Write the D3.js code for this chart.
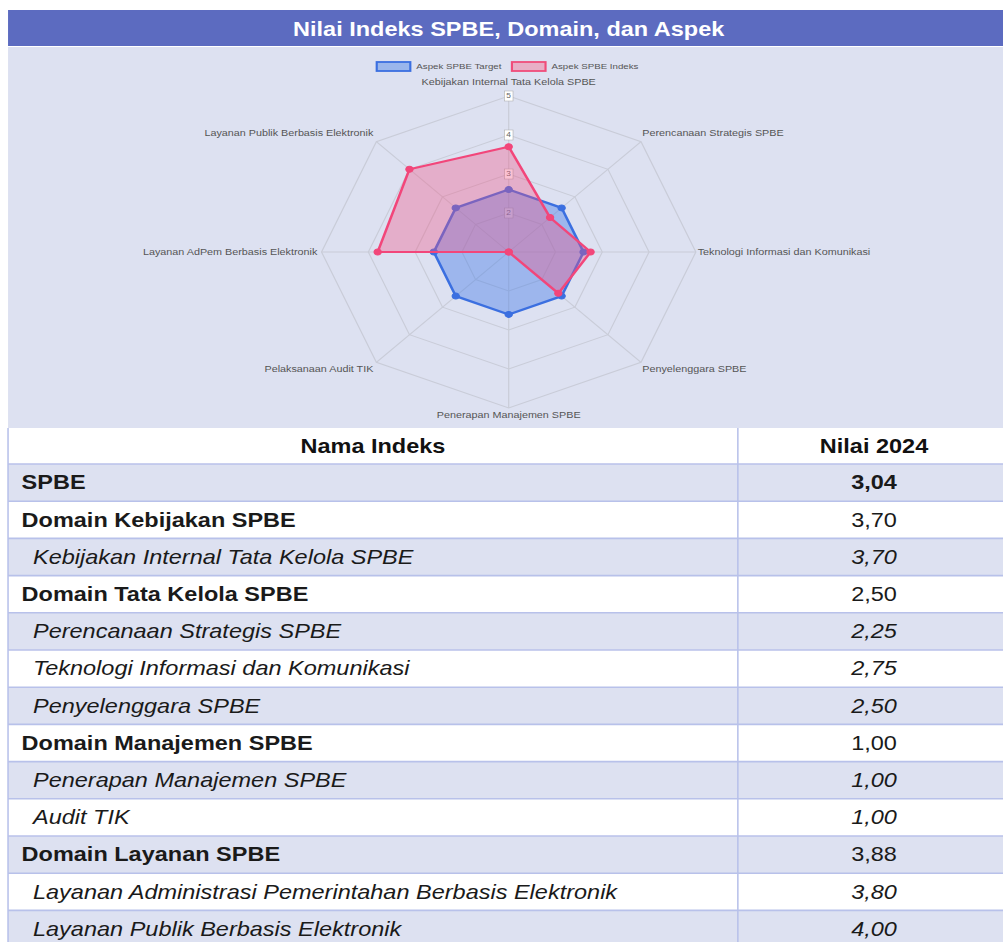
<!DOCTYPE html>
<html>
<head>
<meta charset="utf-8">
<script src="https://cdn.jsdelivr.net/npm/d3@7"></script>
<style>
  html, body { margin: 0; padding: 0; background: #ffffff; }
  svg { display: block; font-family: "Liberation Sans", Arial, sans-serif; }
</style>
</head>
<body>
<script>
// radar data (axes clockwise from the top)
var aspects = [
  "Kebijakan Internal Tata Kelola SPBE",
  "Perencanaan Strategis SPBE",
  "Teknologi Informasi dan Komunikasi",
  "Penyelenggara SPBE",
  "Penerapan Manajemen SPBE",
  "Pelaksanaan Audit TIK",
  "Layanan AdPem Berbasis Elektronik",
  "Layanan Publik Berbasis Elektronik"
];
var targetValues = [2.6, 2.6, 2.6, 2.6, 2.6, 2.6, 2.6, 2.6];
var indeksValues = [3.70, 2.25, 2.75, 2.50, 1.00, 1.00, 3.80, 4.00];
var seriesNames = ["Aspek SPBE Target", "Aspek SPBE Indeks"];
var radialTicks = [1, 2, 3, 4, 5];
var tickLabels = [2, 3, 4, 5];

// table data
var tableHeader = ["Nama Indeks", "Nilai 2024"];
var tableNames = [
  "SPBE",
  "Domain Kebijakan SPBE",
  "Kebijakan Internal Tata Kelola SPBE",
  "Domain Tata Kelola SPBE",
  "Perencanaan Strategis SPBE",
  "Teknologi Informasi dan Komunikasi",
  "Penyelenggara SPBE",
  "Domain Manajemen SPBE",
  "Penerapan Manajemen SPBE",
  "Audit TIK",
  "Domain Layanan SPBE",
  "Layanan Administrasi Pemerintahan Berbasis Elektronik",
  "Layanan Publik Berbasis Elektronik"
];
var tableValues = [3.04, 3.70, 3.70, 2.50, 2.25, 2.75, 2.50, 1.00, 1.00, 1.00, 3.88, 3.80, 4.00];
var tableLevels = ["total", "domain", "aspect", "domain", "aspect", "aspect", "aspect",
                   "domain", "aspect", "aspect", "domain", "aspect", "aspect"];

// the picture is stretched sideways, so draw in a narrower box and stretch it
var W = 836, H = 942;
var svg = d3.select("body").append("svg")
  .attr("width", 1003)
  .attr("height", 942)
  .attr("viewBox", "0 0 " + W + " " + H)
  .attr("preserveAspectRatio", "none");

var left = 6.7, right = 842;
var lavender = "#dde1f1";
var textSize = 19.6;

// title bar
svg.append("rect")
  .attr("x", left).attr("y", 10)
  .attr("width", right - left).attr("height", 36)
  .attr("fill", "#5c6bc0");
svg.append("text")
  .attr("x", 424).attr("y", 29)
  .attr("text-anchor", "middle")
  .attr("dominant-baseline", "central")
  .attr("fill", "#ffffff")
  .attr("font-weight", "bold")
  .attr("font-size", 19.6)
  .text("Nilai Indeks SPBE, Domain, dan Aspek");

// chart background
svg.append("rect")
  .attr("x", left).attr("y", 47)
  .attr("width", right - left).attr("height", 381)
  .attr("fill", lavender);

// legend
var legendX = [314, 426.7];
var legendColors = [
  { stroke: "#3b6fe0", fill: "#9ab6ec" },
  { stroke: "#f04d7a", fill: "#e8aec6" }
];
var legend = svg.selectAll("g.legend")
  .data(seriesNames)
  .enter()
  .append("g")
  .attr("class", "legend")
  .attr("transform", function(d, i) { return "translate(" + legendX[i] + ",62)"; });
legend.append("rect")
  .attr("width", 28).attr("height", 9)
  .attr("fill", function(d, i) { return legendColors[i].fill; })
  .attr("stroke", function(d, i) { return legendColors[i].stroke; })
  .attr("stroke-width", 1.8);
legend.append("text")
  .attr("x", 33).attr("y", 4.5)
  .attr("dominant-baseline", "central")
  .attr("font-size", 8.1)
  .attr("fill", "#555")
  .text(function(d) { return d; });

// radar
var cx = 424, cy = 252, R = 156;
var r = d3.scaleLinear().domain([1, 5]).range([0, R]);
var angle = function(i) { return i * 2 * Math.PI / aspects.length; };
var idx = d3.range(aspects.length);

var radar = svg.append("g").attr("transform", "translate(" + cx + "," + cy + ")");

// octagon rings
var ringLine = d3.lineRadial()
  .angle(function(i) { return angle(i); })
  .curve(d3.curveLinearClosed);
radar.selectAll("path.ring")
  .data(radialTicks.slice(1))
  .enter()
  .append("path")
  .attr("class", "ring")
  .attr("d", function(t) { return ringLine.radius(r(t))(idx); })
  .attr("fill", "none")
  .attr("stroke", "#c9ccd8")
  .attr("stroke-width", 1);

// spokes
radar.selectAll("line.spoke")
  .data(idx)
  .enter()
  .append("line")
  .attr("class", "spoke")
  .attr("x1", 0).attr("y1", 0)
  .attr("x2", function(i) { return R * Math.sin(angle(i)); })
  .attr("y2", function(i) { return -R * Math.cos(angle(i)); })
  .attr("stroke", "#c9ccd8")
  .attr("stroke-width", 1);

// tick labels (drawn under the data, like the original)
var ticks = radar.selectAll("g.tick")
  .data(tickLabels)
  .enter()
  .append("g")
  .attr("class", "tick")
  .attr("transform", function(t) { return "translate(0," + (-r(t)) + ")"; });
ticks.append("rect")
  .attr("x", -3.6).attr("y", -5)
  .attr("width", 7.2).attr("height", 10)
  .attr("fill", "#ffffff")
  .attr("stroke", "#aaa")
  .attr("stroke-width", 0.5);
ticks.append("text")
  .attr("text-anchor", "middle")
  .attr("dominant-baseline", "central")
  .attr("font-size", 7)
  .attr("fill", "#666")
  .text(function(t) { return t; });

// point labels
var labelPos = function(i) {
  var a = angle(i), s = Math.sin(a), c = Math.cos(a);
  var x = R * s, y = -R * c;
  if (Math.abs(s) < 0.01) {
    return { x: 0, y: c > 0 ? y - 14 : y + 7, anchor: "middle" };
  }
  if (Math.abs(c) < 0.01) {
    return { x: s > 0 ? x + 1.5 : x - 3.5, y: y, anchor: s > 0 ? "start" : "end" };
  }
  return { x: s > 0 ? x + 1 : x - 2.5, y: c > 0 ? y - 9 : y + 7, anchor: s > 0 ? "start" : "end" };
};
radar.selectAll("text.plabel")
  .data(aspects)
  .enter()
  .append("text")
  .attr("class", "plabel")
  .attr("x", function(d, i) { return labelPos(i).x; })
  .attr("y", function(d, i) { return labelPos(i).y; })
  .attr("text-anchor", function(d, i) { return labelPos(i).anchor; })
  .attr("dominant-baseline", "central")
  .attr("font-size", 9)
  .attr("fill", "#555")
  .text(function(d) { return d; });

// series polygons
var seriesData = [
  { values: targetValues, stroke: "#3b6fe0", fill: "rgba(70,125,232,0.42)" },
  { values: indeksValues, stroke: "#f2467a", fill: "rgba(240,80,130,0.35)" }
];
var areaLine = d3.lineRadial()
  .angle(function(d, i) { return angle(i); })
  .radius(function(d) { return r(d); })
  .curve(d3.curveLinearClosed);

var series = radar.selectAll("g.series")
  .data(seriesData)
  .enter()
  .append("g")
  .attr("class", "series");
series.append("path")
  .attr("d", function(s) { return areaLine(s.values); })
  .attr("fill", function(s) { return s.fill; })
  .attr("stroke", function(s) { return s.stroke; })
  .attr("stroke-width", 2.2)
  .attr("stroke-linejoin", "round");
series.selectAll("circle")
  .data(function(s) { return s.values.map(function(v) { return { v: v, s: s }; }); })
  .enter()
  .append("circle")
  .attr("cx", function(d, i) { return r(d.v) * Math.sin(angle(i)); })
  .attr("cy", function(d, i) { return -r(d.v) * Math.cos(angle(i)); })
  .attr("r", 3)
  .attr("fill", function(d) { return d.s.stroke; })
  .attr("stroke", function(d) { return d.s.stroke; })
  .attr("stroke-width", 1);

// table
var tableTop = 428, headH = 36, rowH = 37.2;
var divX = 615;
var fmt = function(v) { return d3.format(".2f")(v).replace(".", ","); };

svg.append("rect")
  .attr("x", left).attr("y", tableTop)
  .attr("width", right - left).attr("height", headH)
  .attr("fill", "#ffffff");
svg.selectAll("text.head")
  .data(tableHeader)
  .enter()
  .append("text")
  .attr("class", "head")
  .attr("x", function(d, i) { return i === 0 ? (left + divX) / 2 : (divX + right) / 2; })
  .attr("y", tableTop + headH / 2)
  .attr("text-anchor", "middle")
  .attr("dominant-baseline", "central")
  .attr("font-weight", "bold")
  .attr("font-size", textSize)
  .attr("fill", "#111")
  .text(function(d) { return d; });

var rowY = function(i) { return tableTop + headH + i * rowH; };
var rows = svg.selectAll("g.row")
  .data(tableNames)
  .enter()
  .append("g")
  .attr("class", "row")
  .attr("transform", function(d, i) { return "translate(0," + rowY(i) + ")"; });
rows.append("rect")
  .attr("x", left).attr("width", right - left)
  .attr("height", rowH)
  .attr("fill", function(d, i) { return i % 2 === 0 ? lavender : "#ffffff"; });
rows.append("text")
  .attr("x", function(d, i) { return tableLevels[i] === "aspect" ? 27.5 : 18; })
  .attr("y", rowH / 2)
  .attr("dominant-baseline", "central")
  .attr("font-size", textSize)
  .attr("fill", "#1a1a1a")
  .attr("font-weight", function(d, i) { return tableLevels[i] === "aspect" ? "normal" : "bold"; })
  .attr("font-style", function(d, i) { return tableLevels[i] === "aspect" ? "italic" : "normal"; })
  .text(function(d) { return d; });
rows.append("text")
  .attr("x", (divX + right) / 2)
  .attr("y", rowH / 2)
  .attr("text-anchor", "middle")
  .attr("dominant-baseline", "central")
  .attr("font-size", textSize)
  .attr("fill", "#1a1a1a")
  .attr("font-weight", function(d, i) { return tableLevels[i] === "total" ? "bold" : "normal"; })
  .attr("font-style", function(d, i) { return tableLevels[i] === "aspect" ? "italic" : "normal"; })
  .text(function(d, i) { return fmt(tableValues[i]); });

// row borders and column divider
svg.selectAll("line.hline")
  .data(d3.range(tableNames.length + 1))
  .enter()
  .append("line")
  .attr("class", "hline")
  .attr("x1", left).attr("x2", right)
  .attr("y1", function(i) { return rowY(i); })
  .attr("y2", function(i) { return rowY(i); })
  .attr("stroke", "#b8c1ea")
  .attr("stroke-width", 1.6);
svg.append("line")
  .attr("x1", divX).attr("x2", divX)
  .attr("y1", tableTop).attr("y2", H)
  .attr("stroke", "#b8c1ea")
  .attr("stroke-width", 1.3);
svg.append("line")
  .attr("x1", left).attr("x2", left)
  .attr("y1", tableTop).attr("y2", H)
  .attr("stroke", "#b8c1ea")
  .attr("stroke-width", 1.3);
</script>
</body>
</html>
